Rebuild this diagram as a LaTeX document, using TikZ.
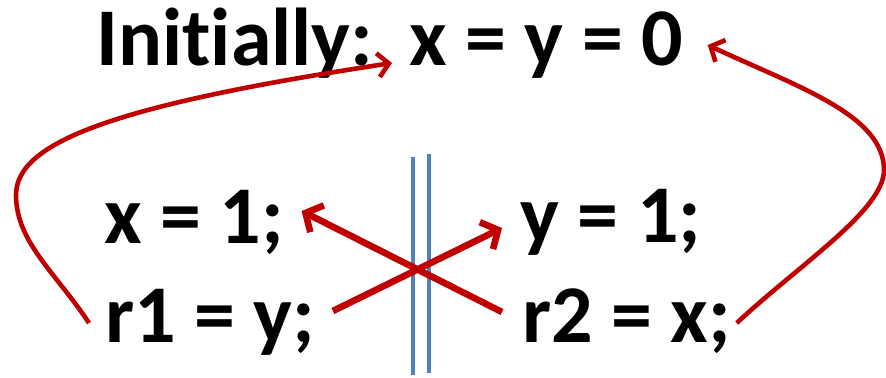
\documentclass[tikz,border=0pt]{standalone}
\usepackage{fontspec}
\setmainfont[RawFeature={-liga}]{Carlito}
\usepackage{tikz}
\usetikzlibrary{arrows.meta,calc}

\definecolor{darkred}{RGB}{192,0,0}
\definecolor{fenceblue}{RGB}{79,129,189}

\begin{document}
\begin{tikzpicture}[x=0.5pt,y=0.5pt,
  code/.style={inner sep=0pt,anchor=base west,font=\fontsize{41}{41}\selectfont\bfseries},
  cross/.style={darkred,line width=3.3pt,-{Straight Barb[length=6.5pt,width=15pt]}},
  loop/.style={darkred,line width=2.3pt,-{Straight Barb[length=5.5pt,width=12pt]}},
  fence/.style={fenceblue,line width=2.2pt}]

% Frame
\useasboundingbox (0,0) rectangle (886,377);

% Initial state
\node[code] (init) at (96,312) {Initially:};
\node[code] (xy) at (409,312) {x = y = 0};

% Thread 1
\node[code] (x1) at (104,134) {x = 1;};
\node[code] (r1) at (105,35) {r1 = y;};

% Thread 2
\node[code] (y1) at (520,135) {y = 1;};
\node[code] (r2) at (522,35) {r2 = x;};

% Fence between threads
\draw[fence] (413,2) -- (413,220);
\draw[fence] (429,4) -- (429,223);

% Reads see the other thread's write
\draw[cross] ([shift={(-20,30)}]r2.base west) -- ([shift={(17,32)}]x1.base east);
\draw[cross] ([shift={(17,31)}]r1.base east) -- ([shift={(-18,14)}]y1.base west);

% Reads see the initial values
\coordinate (lbend) at (16,182);
\coordinate (rbend) at (884,207);
\draw[loop] ([shift={(-16,19)}]r1.base west) .. controls (56,104) and (16,135) .. (lbend)
  .. controls (16,235) and (115,272) .. ([shift={(-17,2)}]xy.base west);
\draw[loop] ([shift={(5,19)}]r2.base east) .. controls (800,113) and (884,167) .. (rbend)
  .. controls (884,262) and (798,290) .. ([shift={(24,20)}]xy.base east);

\end{tikzpicture}
\end{document}
